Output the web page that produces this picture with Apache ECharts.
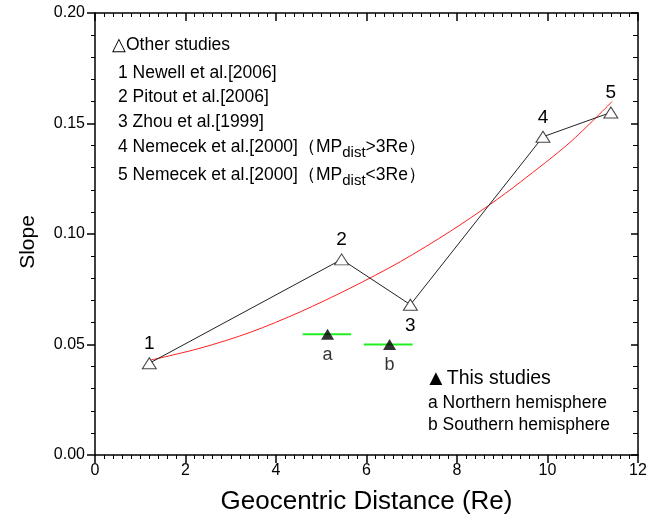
<!DOCTYPE html>
<html>
<head>
<meta charset="utf-8">
<script src="https://cdn.jsdelivr.net/npm/echarts@6/dist/echarts.min.js"></script>
<style>
    html, body { margin: 0; padding: 0; background: #fff; }
    #main { width: 651px; height: 525px; }
</style>
</head>
<body>
<div id="main"></div>
<script>
// other studies (open triangles)
var otherX = [1.2, 5.45, 6.97, 9.9, 11.4];
var otherY = [0.0415, 0.0885, 0.068, 0.144, 0.155];
var otherLabels = ['1', '2', '3', '4', '5'];

// red fitted curve
var fitX = [1.22, 2.32, 3.43, 4.54, 5.64, 6.75, 7.85, 8.74, 9.4, 10.5, 11.43];
var fitY = [0.0429, 0.0483, 0.0555, 0.0648, 0.0755, 0.0875, 0.1012, 0.1135, 0.1235, 0.1415, 0.160];

// this studies (filled triangles) with x range bars
var thisX = [5.14, 6.51];
var thisY = [0.0546, 0.050];
var thisXLow = [4.59, 5.94];
var thisXHigh = [5.66, 7.02];
var thisLabels = ['a', 'b'];

var xTicks = [0, 2, 4, 6, 8, 10, 12];
var yTicks = ['0.00', '0.05', '0.10', '0.15', '0.20'];

var legendOther = [
    '1 Newell et al.[2006]',
    '2 Pitout et al.[2006]',
    '3 Zhou et al.[1999]'
];

var FONT = '"Liberation Sans", Arial, sans-serif';

function buildChart(id) {
    var myChart = echarts.init(document.getElementById(id));

    var otherData = [];
    for (var i = 0; i < otherX.length; i++) {
        otherData.push({
            value: [otherX[i], otherY[i]],
            label: {
                show: true,
                formatter: otherLabels[i],
                position: i == 2 ? 'bottom' : 'top',
                distance: i == 2 ? 6 : 4
            }
        });
    }

    var fitData = [];
    for (var j = 0; j < fitX.length; j++) {
        fitData.push([fitX[j], fitY[j]]);
    }

    var thisData = [];
    var barData = [];
    for (var k = 0; k < thisX.length; k++) {
        thisData.push({
            value: [thisX[k], thisY[k]],
            label: { show: true, formatter: thisLabels[k], position: 'bottom', distance: 6 }
        });
        barData.push([thisXLow[k], thisXHigh[k], thisY[k]]);
    }

    var xMin = xTicks[0], xMax = xTicks[xTicks.length - 1];
    var yMin = parseFloat(yTicks[0]), yMax = parseFloat(yTicks[yTicks.length - 1]);

    var lineBlack = { onZero: false, lineStyle: { color: '#000', width: 1.5 } };

    var option = {
        backgroundColor: '#fff',
        animation: false,
        grid: { left: 95, right: 13, top: 13, bottom: 70 },
        xAxis: [{
            type: 'value', min: xMin, max: xMax, interval: 2,
            name: 'Geocentric Distance (Re)', nameLocation: 'middle', nameGap: 34,
            nameTextStyle: { fontFamily: FONT, fontSize: 26, color: '#000' },
            axisLine: lineBlack,
            axisTick: { show: true, inside: false, length: 8, lineStyle: { color: '#000', width: 1.5 } },
            minorTick: { show: true, splitNumber: 10, length: 4, lineStyle: { color: '#000', width: 1 } },
            axisLabel: { fontFamily: FONT, fontSize: 16, color: '#000', margin: 8 },
            splitLine: { show: false }
        }, {
            type: 'value', min: xMin, max: xMax, interval: 2, position: 'top',
            axisLine: lineBlack,
            axisTick: { show: true, inside: true, length: 8, lineStyle: { color: '#000', width: 1.5 } },
            minorTick: { show: true, splitNumber: 10, length: 4, lineStyle: { color: '#000', width: 1 } },
            axisLabel: { show: false },
            splitLine: { show: false }
        }],
        yAxis: [{
            type: 'value', min: yMin, max: yMax, interval: 0.05,
            axisLine: lineBlack,
            axisTick: { show: true, inside: false, length: 8, lineStyle: { color: '#000', width: 1.5 } },
            minorTick: { show: true, splitNumber: 5, length: 4, lineStyle: { color: '#000', width: 1 } },
            axisLabel: {
                fontFamily: FONT, fontSize: 16, color: '#000', margin: 10,
                formatter: function (v) { return v.toFixed(2); }
            },
            splitLine: { show: false }
        }, {
            type: 'value', min: yMin, max: yMax, interval: 0.05, position: 'right',
            axisLine: lineBlack,
            axisTick: { show: true, inside: true, length: 7, lineStyle: { color: '#000', width: 1.5 } },
            minorTick: { show: true, splitNumber: 5, length: 5, lineStyle: { color: '#000', width: 1 } },
            axisLabel: { show: false },
            splitLine: { show: false }
        }],
        series: [
            {
                name: 'fit',
                type: 'line',
                smooth: 0.3,
                showSymbol: false,
                data: fitData,
                lineStyle: { color: '#ff2020', width: 1 },
                z: 2
            },
            {
                name: 'Other studies',
                type: 'line',
                data: otherData,
                symbol: 'triangle',
                symbolSize: [14, 11],
                itemStyle: { color: '#fff', borderColor: '#444', borderWidth: 1 },
                lineStyle: { color: '#222', width: 1 },
                label: { fontFamily: FONT, fontSize: 19, color: '#000' },
                z: 3
            },
            {
                name: 'range',
                type: 'custom',
                data: barData,
                renderItem: function (params, api) {
                    var p1 = api.coord([api.value(0), api.value(2)]);
                    var p2 = api.coord([api.value(1), api.value(2)]);
                    return {
                        type: 'line',
                        shape: { x1: p1[0], y1: p1[1], x2: p2[0], y2: p2[1] },
                        style: { stroke: '#22ee22', lineWidth: 2 }
                    };
                },
                z: 3
            },
            {
                name: 'This studies',
                type: 'scatter',
                data: thisData,
                symbol: 'triangle',
                symbolSize: [13, 11],
                itemStyle: { color: '#000' },
                label: { fontFamily: FONT, fontSize: 18, color: '#000' },
                z: 4
            }
        ],
        graphic: [
            {
                type: 'text', x: 28, y: 242, rotation: Math.PI / 2,
                style: { text: 'Slope', font: '21px ' + FONT, fill: '#000', align: 'center', verticalAlign: 'middle' }
            },
            { type: 'text', x: 112, y: 45, style: { text: '△Other studies', font: '17.5px ' + FONT, fill: '#000', verticalAlign: 'middle' } },
            { type: 'text', x: 118, y: 73, style: { text: legendOther[0], font: '17.5px ' + FONT, fill: '#000', verticalAlign: 'middle' } },
            { type: 'text', x: 118, y: 97, style: { text: legendOther[1], font: '17.5px ' + FONT, fill: '#000', verticalAlign: 'middle' } },
            { type: 'text', x: 118, y: 122, style: { text: legendOther[2], font: '17.5px ' + FONT, fill: '#000', verticalAlign: 'middle' } },
            {
                type: 'text', x: 118, y: 147,
                style: {
                    text: '{t|4 Nemecek et al.[2000]（MP}{s|dist}{t|>3Re）}',
                    verticalAlign: 'middle',
                    rich: {
                        t: { fontFamily: FONT, fontSize: 17.5, fill: '#000', lineHeight: 24 },
                        s: { fontFamily: FONT, fontSize: 15, fill: '#000', lineHeight: 24, padding: [12, 0, 0, 0] }
                    }
                }
            },
            {
                type: 'text', x: 118, y: 175,
                style: {
                    text: '{t|5 Nemecek et al.[2000]（MP}{s|dist}{t|<3Re）}',
                    verticalAlign: 'middle',
                    rich: {
                        t: { fontFamily: FONT, fontSize: 17.5, fill: '#000', lineHeight: 24 },
                        s: { fontFamily: FONT, fontSize: 15, fill: '#000', lineHeight: 24, padding: [12, 0, 0, 0] }
                    }
                }
            },
            {
                type: 'text', x: 425, y: 379,
                style: {
                    text: '{m|▲}{t|This studies}',
                    verticalAlign: 'middle',
                    rich: {
                        m: { fontSize: 22, fill: '#000', lineHeight: 24 },
                        t: { fontFamily: FONT, fontSize: 19.5, fill: '#000', lineHeight: 24 }
                    }
                }
            },
            { type: 'text', x: 428, y: 403, style: { text: 'a Northern hemisphere', font: '17.5px ' + FONT, fill: '#000', verticalAlign: 'middle' } },
            { type: 'text', x: 428, y: 425, style: { text: 'b Southern hemisphere', font: '17.5px ' + FONT, fill: '#000', verticalAlign: 'middle' } }
        ]
    };

    myChart.setOption(option);
    window.addEventListener('resize', function () {
        myChart.resize();
    });
}

buildChart('main');
</script>
</body>
</html>
